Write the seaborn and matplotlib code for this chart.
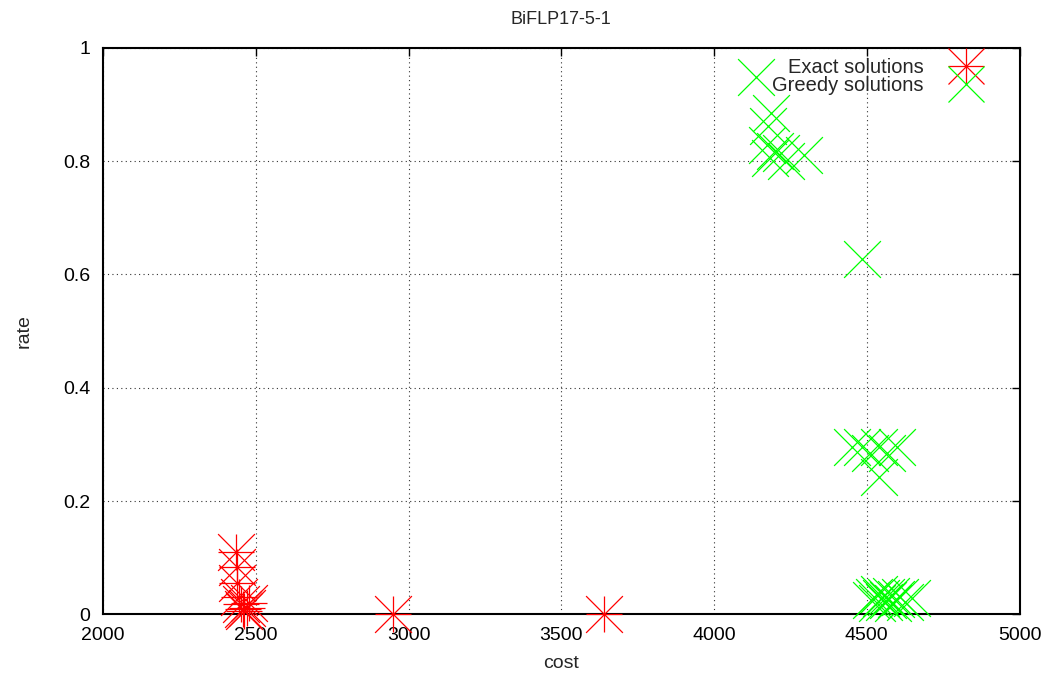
import matplotlib
matplotlib.use("Agg")
import matplotlib.pyplot as plt
from matplotlib.lines import Line2D
import seaborn as sns
import pandas as pd

# ---- data ----
exact_cost = [2435, 2437, 2440, 2445, 2452, 2458, 2463, 2470, 2478, 2950, 3641]
exact_rate = [0.110, 0.084, 0.056, 0.030, 0.018, 0.010, 0.006, 0.012, 0.020, 0.001, 0.001]

greedy_cost = [4138, 4188, 4178, 4172, 4200, 4183, 4218, 4296, 4235,
               4485,
               4451, 4483, 4510, 4541, 4565, 4598, 4541,
               4515, 4525, 4535, 4540, 4548, 4555, 4562, 4570, 4578, 4585,
               4595, 4610, 4625, 4648]
greedy_rate = [0.948, 0.885, 0.862, 0.828, 0.818, 0.805, 0.815, 0.810, 0.800,
               0.627,
               0.296, 0.296, 0.284, 0.296, 0.284, 0.296, 0.243,
               0.025, 0.030, 0.020, 0.035, 0.028, 0.022, 0.030, 0.025, 0.032, 0.020,
               0.027, 0.030, 0.022, 0.028]

x_ticks = [2000, 2500, 3000, 3500, 4000, 4500, 5000]
x_ticklabels = ["2000", "2500", "3000", "3500", "4000", "4500", "5000"]
y_ticks = [0, 0.2, 0.4, 0.6, 0.8, 1.0]
y_ticklabels = ["0", "0.2", "0.4", "0.6", "0.8", "1"]

title = "BiFLP17-5-1"
xlabel = "cost"
ylabel = "rate"
label_exact = "Exact solutions"
label_greedy = "Greedy solutions"

RED = "#ff0000"
GREEN = "#00ff00"

sns.set_theme(style="white")
plt.rcParams["font.family"] = ["Liberation Sans", "DejaVu Sans"]

fig = plt.figure(figsize=(10.51, 6.75), dpi=100)
ax = fig.add_axes([103 / 1051, 1 - 614.3 / 675, 916.5 / 1051, 566.5 / 675])

df_e = pd.DataFrame({"cost": exact_cost, "rate": exact_rate})
df_g = pd.DataFrame({"cost": greedy_cost, "rate": greedy_rate})

ms = 26.5
s = ms ** 2
lw = 0.9
for mk in ["+", "x"]:
    sns.scatterplot(data=df_e, x="cost", y="rate", marker=mk, s=s, color=RED,
                    linewidth=lw, ax=ax, clip_on=False, zorder=3, legend=False)
sns.scatterplot(data=df_g, x="cost", y="rate", marker="x", s=s, color=GREEN,
                linewidth=lw, ax=ax, clip_on=False, zorder=4, legend=False)

ax.set_xlim(2000, 5000)
ax.set_ylim(0, 1)
ax.set_xticks(x_ticks)
ax.set_xticklabels(x_ticklabels)
ax.set_yticks(y_ticks)
ax.set_yticklabels(y_ticklabels)

ax.grid(True, linestyle=(0, (1, 3)), color="#333333", linewidth=0.8)
ax.set_axisbelow(True)
for sp in ax.spines.values():
    sp.set_visible(True)
    sp.set_color("black")
    sp.set_linewidth(1.5)

ax.tick_params(axis="both", which="major", direction="in", length=6, width=1,
               top=True, right=True, labelsize=14, colors="black", pad=9)

ax.set_title(title, fontsize=13, pad=17)
ax.set_xlabel(xlabel, fontsize=14, labelpad=8)
ax.set_ylabel(ylabel, fontsize=14, labelpad=22)

h_exact = (Line2D([], [], linestyle="none", marker="+", markersize=ms, color=RED, markeredgewidth=lw),
           Line2D([], [], linestyle="none", marker="x", markersize=ms, color=RED, markeredgewidth=lw))
h_greedy = Line2D([], [], linestyle="none", marker="x", markersize=ms, color=GREEN, markeredgewidth=lw)
leg = ax.legend([h_exact, h_greedy], [label_exact, label_greedy], loc="upper right",
                bbox_to_anchor=((984 - 103) / 916.5, (614.3 - 58) / 566.5),
                markerfirst=False, frameon=False, fontsize=14.5, borderpad=0,
                borderaxespad=0, labelspacing=-0.05, handlelength=1.8, handletextpad=1.2)
for t in leg.get_texts():
    t.set_ha("right")

fig.savefig("out.png", dpi=100)
